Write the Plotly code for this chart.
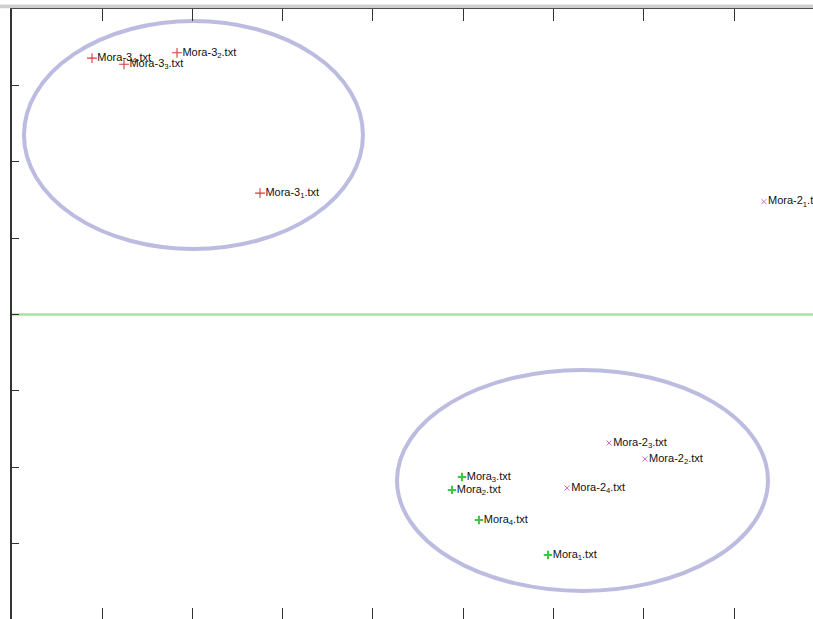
import plotly.graph_objects as go

# ---- data ----
g3_names = ["Mora-3", "Mora-3", "Mora-3", "Mora-3"]
g3_sub = ["4", "3", "2", "1"]
g3_x = [0.889, 1.244, 1.831, 2.750]
g3_y = [3.36, 3.28, 3.43, 1.59]

g2_names = ["Mora-2", "Mora-2", "Mora-2", "Mora-2"]
g2_sub = ["1", "3", "2", "4"]
g2_x = [8.33, 6.615, 7.013, 6.150]
g2_y = [1.48, -1.685, -1.895, -2.275]

g1_names = ["Mora", "Mora", "Mora", "Mora"]
g1_sub = ["3", "2", "4", "1"]
g1_x = [4.987, 4.876, 5.175, 5.939]
g1_y = [-2.13, -2.30, -2.695, -3.153]

# ellipses: centre x, centre y, radius x, radius y
ell_cx = [2.013, 6.321]
ell_cy = [2.352, -2.176]
ell_rx = [1.877, 2.054]
ell_ry = [1.494, 1.448]

separator_y = 0.0

x_ticks = [0, 1, 2, 3, 4, 5, 6, 7, 8]
y_ticks = [-4, -3, -2, -1, 0, 1, 2, 3, 4]
x_range = [0, 8.874]
y_range = [-3.992, 4.0]

# ---- styling ----
W, H = 813, 619
FONT = "Liberation Sans Narrow, Arial Narrow, Liberation Sans, Arial, sans-serif"
left_px = 11.7
top_px = 9.3


def labels(names, subs):
    return [f"{n}<sub>{s}</sub>.txt" for n, s in zip(names, subs)]


fig = go.Figure()

tf = dict(family=FONT, size=11, color="#111111")

fig.add_trace(go.Scatter(
    x=g3_x, y=g3_y, mode="markers+text",
    text=labels(g3_names, g3_sub), textposition="middle right",
    textfont=tf,
    marker=dict(symbol="cross-thin", size=7, line=dict(color="#d23c3c", width=1.1)),
    showlegend=False, cliponaxis=False,
))
fig.add_trace(go.Scatter(
    x=g2_x, y=g2_y, mode="markers+text",
    text=labels(g2_names, g2_sub), textposition="middle right",
    textfont=tf,
    marker=dict(symbol="x-thin", size=5, line=dict(color="#d070d0", width=1)),
    showlegend=False, cliponaxis=False,
))
fig.add_trace(go.Scatter(
    x=g1_x, y=g1_y, mode="markers+text",
    text=labels(g1_names, g1_sub), textposition="middle right",
    textfont=tf,
    marker=dict(symbol="cross-thin", size=6, line=dict(color="#3cc83c", width=2)),
    showlegend=False, cliponaxis=False,
))
# invisible trace to bring the top axis into existence
fig.add_trace(go.Scatter(x=x_range, y=y_range, xaxis="x2", mode="markers",
                         marker=dict(opacity=0), showlegend=False, hoverinfo="skip"))

# separating line
fig.add_hline(y=separator_y, line=dict(color="#a6e0a6", width=2.5), layer="below")

# ellipses
for cx, cy, rx, ry in zip(ell_cx, ell_cy, ell_rx, ell_ry):
    fig.add_shape(type="circle", xref="x", yref="y",
                  x0=cx - rx, x1=cx + rx, y0=cy - ry, y1=cy + ry,
                  line=dict(color="#bcbce0", width=4), layer="below")

# thin grey band above the top frame
fig.add_shape(type="rect", xref="paper", yref="paper",
              x0=0, x1=1.01,
              y0=1 - 8.3 / H, y1=1 - 4.5 / H,
              line=dict(width=0), fillcolor="#cfcfcf", layer="above")

dom_x = [left_px / W, 1]
dom_y = [0, 1 - top_px / H]

fig.update_layout(
    width=W, height=H,
    margin=dict(l=0, r=0, t=0, b=0),
    paper_bgcolor="white", plot_bgcolor="white",
    xaxis=dict(domain=dom_x, range=x_range, side="bottom", showgrid=False, zeroline=False,
               tickmode="array", tickvals=x_ticks, showticklabels=False,
               ticks="inside", ticklen=11, tickwidth=1, tickcolor="#333333",
               showline=False),
    xaxis2=dict(domain=dom_x, range=x_range, overlaying="x", side="top", anchor="y",
                showgrid=False, zeroline=False,
                tickmode="array", tickvals=x_ticks, showticklabels=False,
                ticks="inside", ticklen=12, tickwidth=1, tickcolor="#333333",
                showline=True, linewidth=2, linecolor="#222222"),
    yaxis=dict(domain=dom_y, range=y_range, showgrid=False, zeroline=False,
               tickmode="array", tickvals=y_ticks, showticklabels=False,
               ticks="inside", ticklen=8, tickwidth=1, tickcolor="#333333",
               showline=True, linewidth=1.5, linecolor="#333333"),
)

fig.write_html("out.html")
